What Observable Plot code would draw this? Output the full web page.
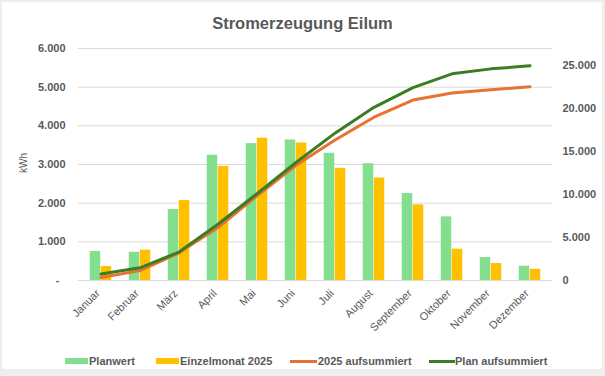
<!DOCTYPE html>
<html>
<head>
<meta charset="utf-8">
<script src="https://cdn.jsdelivr.net/npm/d3@7"></script>
<script src="https://cdn.jsdelivr.net/npm/@observablehq/plot@0.6"></script>
<style>
  html, body { margin: 0; padding: 0; }
  body { width: 605px; height: 376px; background: #eeeeee; position: relative; overflow: hidden;
         font-family: "Liberation Sans", Arial, sans-serif; color: #595959; }
  #card { position: absolute; left: 2px; top: 2px; width: 600px; height: 367px; background: #fff; border-radius: 2px; }
  #chart { position: absolute; left: 0; top: 0; }
  #title { position: absolute; left: 0; width: 605px; top: 14px; text-align: center; font-size: 16.5px; font-weight: bold; }
  #ylabel { position: absolute; left: 23px; top: 163px; font-size: 10px; transform: translate(-50%, -50%) rotate(-90deg); white-space: nowrap; }
  .leg { position: absolute; top: 354px; font-size: 11px; font-weight: bold; white-space: nowrap; line-height: 14px; }
  .sw { position: absolute; }
</style>
</head>
<body>
<div id="card"></div>
<div id="chart"></div>
<div id="title">Stromerzeugung Eilum</div>
<div id="ylabel">kWh</div>
<div id="legend"></div>
<script>
const months = ["Januar","Februar","März","April","Mai","Juni","Juli","August","September","Oktober","November","Dezember"];
const planwert = [750, 730, 1835, 3240, 3540, 3635, 3290, 3020, 2250, 1645, 595, 370];
const einzelmonat2025 = [360, 785, 2070, 2950, 3680, 3555, 2900, 2650, 1955, 810, 440, 290];
const aufsummiert2025 = [360, 1150, 3220, 6170, 9850, 13400, 16350, 19000, 21000, 21820, 22200, 22560];
const planAufsummiert = [750, 1480, 3310, 6550, 10100, 13730, 17150, 20150, 22450, 24050, 24630, 24980];
const leftTicks = [0, 1000, 2000, 3000, 4000, 5000, 6000];
const rightTicks = [0, 5000, 10000, 15000, 20000, 25000];
const seriesNames = ["Planwert", "Einzelmonat 2025", "2025 aufsummiert", "Plan aufsummiert"];
const colors = ["#83DE8D", "#FFC000", "#E97132", "#3A7D22"];

const rows = months.map((m, i) => ({month: m, plan: planwert[i], actual: einzelmonat2025[i], cumActual: aufsummiert2025[i], cumPlan: planAufsummiert[i]}));
const leftMax = 6000, rightMax = 27000, k = leftMax / rightMax;
const fmt = v => v.toLocaleString("de-DE");

const bw = (605 - 53 - 78) / 12 / 2, barW = 11;

const chart = Plot.plot({
  width: 605, height: 376,
  marginTop: 48, marginBottom: 96, marginLeft: 78, marginRight: 53,
  style: {fontFamily: "'Liberation Sans', Arial, sans-serif", fontSize: "11px", color: "#595959", background: "transparent"},
  x: {type: "band", domain: months, padding: 0},
  y: {domain: [0, leftMax]},
  marks: [
    Plot.ruleY(leftTicks, {stroke: "#d9d9d9", strokeWidth: 1}),
    Plot.barY(rows, {x: "month", y: "plan", fill: colors[0], insetLeft: bw - barW, insetRight: bw}),
    Plot.barY(rows, {x: "month", y: "actual", fill: colors[1], insetLeft: bw, insetRight: bw - barW}),
    Plot.lineY(rows, {x: "month", y: d => d.cumActual * k, stroke: colors[2], strokeWidth: 3}),
    Plot.lineY(rows, {x: "month", y: d => d.cumPlan * k, stroke: colors[3], strokeWidth: 3}),
    Plot.axisY(leftTicks, {anchor: "left", tickSize: 0, tickPadding: 13, fontWeight: "bold", fontSize: 11,
      tickFormat: d => d === 0 ? "-\u00a0\u00a0" : fmt(d), label: null}),
    Plot.axisY(rightTicks.map(v => v * k), {anchor: "right", tickSize: 0, tickPadding: 10, fontWeight: "bold", fontSize: 11,
      tickFormat: d => fmt(Math.round(d / k)), label: null}),
    Plot.axisX({tickSize: 0, tickPadding: 11, dx: -3, tickRotate: -45, fontSize: 11, label: null})
  ]
});
document.getElementById("chart").appendChild(chart);

const leg = document.getElementById("legend");
const items = [
  {name: seriesNames[0], color: colors[0], type: "bar", sx: 65, sw: 23, tx: 89},
  {name: seriesNames[1], color: colors[1], type: "bar", sx: 156, sw: 23, tx: 180},
  {name: seriesNames[2], color: colors[2], type: "line", sx: 290, sw: 27, tx: 318},
  {name: seriesNames[3], color: colors[3], type: "line", sx: 429, sw: 26, tx: 455}
];
for (const it of items) {
  const s = document.createElement("div");
  s.className = "sw";
  s.style.left = it.sx + "px";
  s.style.width = it.sw + "px";
  s.style.background = it.color;
  if (it.type === "bar") { s.style.top = "358px"; s.style.height = "6px"; }
  else { s.style.top = "359.5px"; s.style.height = "3px"; }
  leg.appendChild(s);
  const t = document.createElement("div");
  t.className = "leg";
  t.style.left = it.tx + "px";
  t.textContent = it.name;
  leg.appendChild(t);
}
</script>
</body>
</html>
